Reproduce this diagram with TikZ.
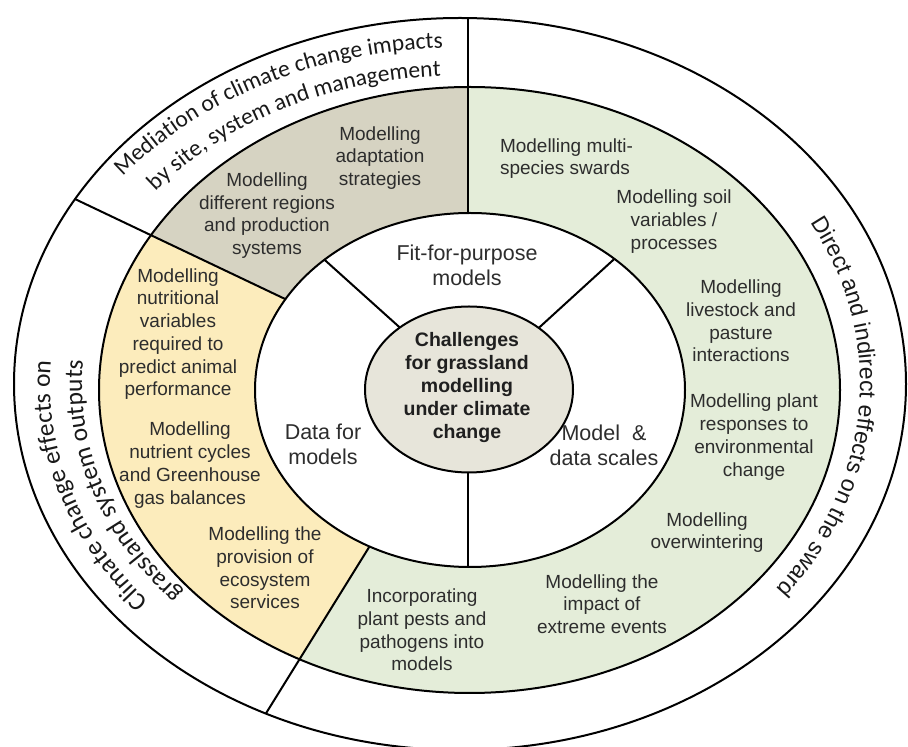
\documentclass[tikz,border=0pt]{standalone}
\usepackage{fontspec}
\setmainfont{Liberation Sans}
\newfontfamily\carlitofont{Carlito}
\usetikzlibrary{decorations.text}
\definecolor{taupe}{RGB}{214,211,194}
\definecolor{sand}{RGB}{252,236,188}
\definecolor{sage}{RGB}{228,237,217}
\definecolor{core}{RGB}{231,229,218}
\definecolor{txt}{RGB}{45,45,45}
\begin{document}
\begin{tikzpicture}[x=1pt,y=1pt,line width=2pt,
  ring/.style={draw=black,line width=2pt},
  divider/.style={draw=black,line width=2pt},
  lbl/.style={align=center,inner sep=0pt,text=txt,font=\fontsize{19}{22.75}\selectfont},
  lbll/.style={align=left,inner sep=0pt,text=txt,font=\fontsize{19}{22.75}\selectfont},
  midlbl/.style={align=center,inner sep=0pt,text=txt,font=\fontsize{21.5}{25}\selectfont},
  corelbl/.style={align=center,inner sep=0pt,text=black!88,font=\fontsize{19.5}{23}\selectfont\bfseries},
  arctext/.style={decorate,decoration={text along path,text align=center,text color=black!90,text={#1}}}]
\useasboundingbox (0,0) rectangle (908,747);

% outer ellipse
\draw[ring,fill=white] (460,363) ellipse [x radius=446pt, y radius=366pt];

% coloured ring
\begin{scope}
  \clip (469.5,357) ellipse [x radius=370.5pt, y radius=303pt];
  \fill[sage] (0,0) rectangle (908,747);
  \fill[taupe] (468,361) -- (0,583.6) -- (0,747) -- (468,747) -- cycle;
  \fill[sand] (468,361) -- (0,583.6) -- (0,0) -- (245.1,0) -- cycle;
\end{scope}
\draw[ring] (469.5,357) ellipse [x radius=370.5pt, y radius=303pt];

% inner white ring
\draw[ring,fill=white] (470,357) ellipse [x radius=215pt, y radius=177pt];

% divider end points
\coordinate (topO) at (468,728.9);
\coordinate (topI) at (468,534);
\coordinate (ulO) at (75.1,547.9);
\coordinate (ulI) at (285.45,447.83);
\coordinate (btO) at (265.9,33.5);
\coordinate (btI) at (369.5,200.5);
\coordinate (iulA) at (324.4,487.3);
\coordinate (iulB) at (399.8,419.5);
\coordinate (iurA) at (614.5,488.2);
\coordinate (iurB) at (538.8,419.1);
\coordinate (ibA) at (468,180);
\coordinate (ibB) at (468,274.5);

\draw[divider] (topO) -- (topI);
\draw[divider] (ulO) -- (ulI);
\draw[divider] (btO) -- (btI);
\draw[divider] (iulA) -- (iulB);
\draw[divider] (iurA) -- (iurB);
\draw[divider] (ibA) -- (ibB);

% core
\draw[ring,fill=core] (469,357.5) ellipse [x radius=104pt, y radius=83pt];
\node[corelbl] (core) at (467,359) {Challenges\\for grassland\\modelling\\under climate\\change};

% inner ring labels
\node[midlbl] (fit) at (467,481.5) {Fit-for-purpose\\models};
\node[midlbl] (data) at (323,302.5) {Data for\\models};
\node[midlbl] (scale) at (604,301.5) {Model\ \ \&\\data scales};

% taupe
\node[lbl] (adapt) at (380,589) {Modelling\\adaptation\\strategies};
\node[lbl] (regions) at (267,531.5) {Modelling\\different regions\\and production\\systems};

% yellow
\node[lbl] (nutr) at (178,413) {Modelling\\nutritional\\variables\\required to\\predict animal\\performance};
\node[lbl] (cycles) at (190,282) {Modelling\\nutrient cycles\\and Greenhouse\\gas balances};
\node[lbl] (eco) at (265,179) {Modelling the\\provision of\\ecosystem\\services};

% green
\node[lbll,anchor=west] (multi) at (499,588.5) {Modelling multi-\\species swards};
\node[lbl] (soil) at (674,525.5) {Modelling soil\\variables /\\processes};
\node[lbl] (live) at (741,426) {Modelling\\livestock and\\pasture\\interactions};
\node[lbl] (plant) at (754,310) {Modelling plant\\responses to\\environmental\\change};
\node[lbl] (winter) at (707,214.5) {Modelling\\overwintering};
\node[lbl] (extreme) at (602,143) {Modelling the\\impact of\\extreme events};
\node[lbl] (pests) at (422,117) {Incorporating\\plant pests and\\pathogens into\\models};

% outer ring curved texts
\path[arctext={|\carlitofont\fontsize{23.5}{24}\selectfont|Mediation of climate change impacts}]
  ([shift={(460,363)}]151.6:428pt and 336.5pt) arc[start angle=151.6, end angle=84.1, x radius=428pt, y radius=336.5pt];
\path[arctext={|\carlitofont\fontsize{23.5}{24}\selectfont|by site, system and management}]
  ([shift={(460,363)}]151:390pt and 308.5pt) arc[start angle=151, end angle=84.5, x radius=390pt, y radius=308.5pt];
\path[arctext={|\carlitofont\fontsize{25.5}{26}\selectfont|Climate change effects on}]
  ([shift={(460,363)}]234:410pt and 334pt) arc[start angle=234, end angle=161, x radius=410pt, y radius=334pt];
\path[arctext={|\carlitofont\fontsize{25.5}{26}\selectfont|grassland system outputs}]
  ([shift={(460,363)}]235:378pt and 308pt) arc[start angle=235, end angle=162, x radius=378pt, y radius=308pt];
\path[arctext={|\fontsize{23}{23}\selectfont|Direct and indirect effects on the sward}]
  ([shift={(460,363)}]40:400pt and 335pt) arc[start angle=40, end angle=-48.6, x radius=400pt, y radius=335pt];
\end{tikzpicture}
\end{document}
